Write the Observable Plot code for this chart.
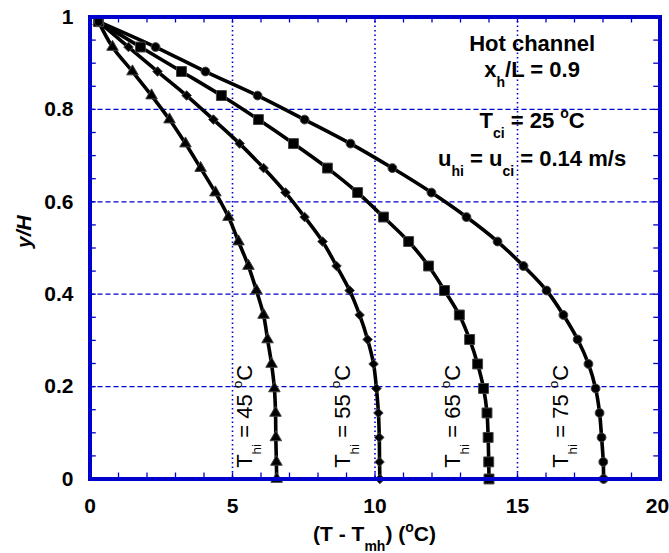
<!DOCTYPE html>
<html><head><meta charset="utf-8">
<script src="https://cdn.jsdelivr.net/npm/d3@7"></script>
<script src="https://cdn.jsdelivr.net/npm/@observablehq/plot@0.6"></script>
<style>body{margin:0;background:#fff} svg{display:block}</style>
</head><body><div id="chart"></div>
<script>
// ---- data ----
const yOverH = [0.99, 0.935, 0.882, 0.83, 0.778, 0.726, 0.673, 0.62, 0.567, 0.514, 0.461, 0.408, 0.355, 0.302, 0.249, 0.196, 0.143, 0.09, 0.037, 0];
const dT45 = [0.3, 0.79, 1.49, 2.16, 2.79, 3.35, 3.88, 4.40, 4.86, 5.21, 5.56, 5.84, 6.09, 6.23, 6.37, 6.47, 6.51, 6.52, 6.54, 6.55];
const dT55 = [0.3, 1.35, 2.37, 3.39, 4.33, 5.25, 6.09, 6.86, 7.53, 8.16, 8.65, 9.11, 9.46, 9.74, 9.95, 10.05, 10.12, 10.15, 10.16, 10.17];
const dT65 = [0.3, 1.77, 3.21, 4.61, 5.91, 7.14, 8.33, 9.39, 10.30, 11.18, 11.88, 12.44, 12.96, 13.32, 13.60, 13.81, 13.93, 13.97, 13.99, 14.0];
const dT75 = [0.3, 2.30, 4.05, 5.88, 7.53, 9.14, 10.61, 11.98, 13.21, 14.30, 15.21, 16.02, 16.61, 17.11, 17.49, 17.74, 17.88, 17.95, 18.01, 18.02];
const seriesThi = ["45", "55", "65", "75"];
const xTicks = [0, 5, 10, 15, 20];
const yTicks = [0, 0.2, 0.4, 0.6, 0.8, 1];
const yTickLabels = ["0", "0.2", "0.4", "0.6", "0.8", "1"];

// ---- styling / layout ----
const blue = "#0000cc";
const font = "'Liberation Sans', Arial, Helvetica, sans-serif";
const seriesStyle = [
  {xs: dT45, symbol: "triangle", r: 4.3},
  {xs: dT55, symbol: "diamond2", r: 4.3},
  {xs: dT65, symbol: "square", r: 5.6},
  {xs: dT75, symbol: "circle", r: 4.4}
];
const seriesLabelPos = [[5.70, 0.023], [9.14, 0.023], [13.0, 0.023], [16.79, 0.023]];

const rows = [];
seriesStyle.forEach((s, k) => s.xs.forEach((x, i) => rows.push({T: seriesThi[k], x, y: yOverH[i]})));

const minorX = d3.range(1, 20);
const minorY = d3.range(1, 20).map(d => d / 20);
const lastX = xTicks[xTicks.length - 1];

const plot = Plot.plot({
  width: 669, height: 553,
  marginLeft: 89.5, marginRight: 9.5, marginTop: 16.5, marginBottom: 74.5,
  x: {domain: [0, 20]},
  y: {domain: [0, 1]},
  style: {fontFamily: font, background: "white", color: "black", overflow: "visible"},
  marks: [
    Plot.ruleX([5, 10, 15], {stroke: blue, strokeWidth: 1.6, strokeDasharray: "1.5,3"}),
    Plot.ruleY([0.2, 0.4, 0.6, 0.8], {stroke: blue, strokeWidth: 1.3, strokeDasharray: "5,3"}),
    Plot.ruleX(minorX, {y1: 0, y2: 0.013, stroke: blue, strokeWidth: 1.3}),
    Plot.ruleX(minorX, {y1: 0.987, y2: 1, stroke: blue, strokeWidth: 1.3}),
    Plot.ruleY(minorY, {x1: 0, x2: 0.22, stroke: blue, strokeWidth: 1.3}),
    Plot.ruleY(minorY, {x1: 19.78, x2: 20, stroke: blue, strokeWidth: 1.3}),
    Plot.line(rows, {x: "x", y: "y", z: "T", curve: "catmull-rom", stroke: "black", strokeWidth: 3.6}),
    ...seriesStyle.map((s, k) => Plot.dot(rows.filter(d => d.T === seriesThi[k]), {
      x: "x", y: "y", symbol: () => s.symbol, r: s.r, fill: "black", stroke: "#444", strokeWidth: 1
    })),
    Plot.frame({stroke: blue, strokeWidth: 4}),
    Plot.axisX(xTicks.slice(0, -1), {tickSize: 0, tickPadding: 19, fontSize: 21, fontWeight: "bold", label: null, tickFormat: d => String(d)}),
    Plot.axisX([lastX], {tickSize: 0, tickPadding: 19, fontSize: 21, fontWeight: "bold", label: null, dx: -2.5, tickFormat: d => String(d)}),
    Plot.axisY(yTicks, {tickSize: 0, tickPadding: 16.5, fontSize: 21, fontWeight: "bold", label: null, tickFormat: d => yTickLabels[yTicks.indexOf(d)]}),
    Plot.text(["y/H"], {frameAnchor: "left", dx: -66, rotate: -90, fontSize: 21, fontWeight: "bold", fontStyle: "italic", fill: "black"})
  ]
});
document.getElementById("chart").appendChild(plot);

// ---- rich text (subscripts / superscripts) ----
const sx = plot.scale("x"), sy = plot.scale("y");
const svg = d3.select(plot);
function rich(g, parts, size, subSize, subDy, supDy, weight, anchor) {
  const t = g.append("text").attr("font-family", font).attr("font-size", size)
    .attr("font-weight", weight).attr("text-anchor", anchor).attr("fill", "black");
  let cur = 0;
  for (const [str, kind] of parts) {
    const target = kind === "sub" ? subDy : kind === "sup" ? supDy : 0;
    const ts = t.append("tspan").text(str).attr("dy", target - cur);
    if (kind !== "n") ts.attr("font-size", subSize);
    cur = target;
  }
  return t;
}
// annotation block
const ax = sx.apply(15.53);
const lines = [
  [0.925, [["Hot channel", "n"]]],
  [0.868, [["x", "n"], ["h", "sub"], ["/L = 0.9", "n"]]],
  [0.758, [["T", "n"], ["ci", "sub"], [" = 25 ", "n"], ["o", "sup"], ["C", "n"]]],
  [0.676, [["u", "n"], ["hi", "sub"], [" = u", "n"], ["ci", "sub"], [" = 0.14 m/s", "n"]]]
];
for (const [yy, parts] of lines) {
  const g = svg.append("g").attr("transform", `translate(${ax},${sy.apply(yy)})`);
  rich(g, parts, 22, 14, 10, -10, "bold", "middle");
}
// rotated series labels
seriesThi.forEach((v, k) => {
  const [lx, ly] = seriesLabelPos[k];
  const g = svg.append("g").attr("transform", `translate(${sx.apply(lx)},${sy.apply(ly)}) rotate(-90)`);
  rich(g, [["T", "n"], ["hi", "sub"], [" = " + v + " ", "n"], ["o", "sup"], ["C", "n"]], 22, 13.5, 9, -10, "normal", "start");
});
// x axis title
{
  const cx = (sx.apply(0) + sx.apply(20)) / 2;
  const g = svg.append("g").attr("transform", `translate(${cx},${sy.apply(0) + 62.5})`);
  rich(g, [["(T - T", "n"], ["mh", "sub"], [") (", "n"], ["o", "sup"], ["C)", "n"]], 21, 14, 10, -9, "bold", "middle");
}
</script>
</body></html>
